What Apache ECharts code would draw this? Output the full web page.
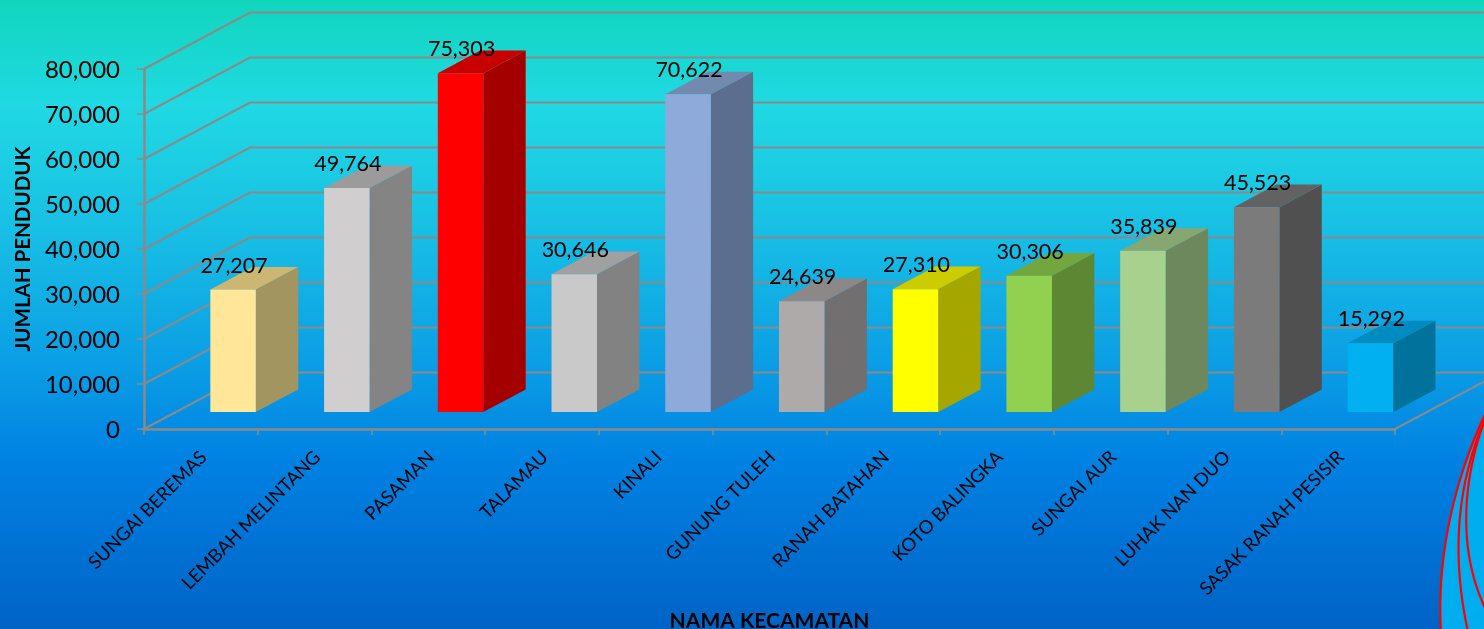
<!DOCTYPE html>
<html>
<head>
<meta charset="utf-8">
<style>html,body{margin:0;padding:0;background:#0a9ce5}#c{width:1484px;height:629px}</style>
<script src="https://cdn.jsdelivr.net/npm/echarts@6/dist/echarts.min.js"></script>
</head>
<body>
<div id="c"></div>
<script>
const categories = ['SUNGAI BEREMAS','LEMBAH MELINTANG','PASAMAN','TALAMAU','KINALI','GUNUNG TULEH','RANAH BATAHAN','KOTO BALINGKA','SUNGAI AUR','LUHAK NAN DUO','SASAK RANAH PESISIR'];
const population = [27207,49764,75303,30646,70622,24639,27310,30306,35839,45523,15292];
const yTicks = [0,10000,20000,30000,40000,50000,60000,70000,80000];
const frontColors = ['#FFE699','#D0CECE','#FF0000','#C9C9C9','#8EAADB','#AEAAAA','#FFFF00','#92D050','#A9D18E','#7B7B7B','#00B0F0'];
const topColors   = ['#CBB772','#9C9B9B','#C80000','#A0A0A0','#718AAE','#8C8888','#CCCC00','#74A63F','#87A772','#626262','#008CC0'];
const sideColors  = ['#A39560','#848484','#A50000','#828282','#5C6E8E','#716F6F','#A6A600','#5E8733','#6D885C','#505050','#00729C'];

const DEPTH_X = 106, DEPTH_Y = 56.5;
const GRID_COLOR = '#8a8a8a';
const FONT = 'Lato, "Open Sans", sans-serif';

function sampleBezier(p0, p1, p2, p3) {
  const pts = [];
  for (let i = 0; i <= 40; i++) {
    const t = i / 40, u = 1 - t;
    pts.push([
      u*u*u*p0[0] + 3*u*u*t*p1[0] + 3*u*t*t*p2[0] + t*t*t*p3[0],
      u*u*u*p0[1] + 3*u*u*t*p1[1] + 3*u*t*t*p2[1] + t*t*t*p3[1]
    ]);
  }
  return pts;
}
const curveA = sampleBezier([1488,408],[1458,470],[1436,550],[1441,632]);
const curveB = sampleBezier([1488,412],[1462,470],[1448,540],[1468,632]);
const curveC = sampleBezier([1488,412],[1468,460],[1452,540],[1486,610]);
const redLine = pts => ({type:'polyline', silent:true, z:5, shape:{points:pts}, style:{fill:null, stroke:'#FF0000', lineWidth:2.2}});

function renderWall(params, api) {
  const cs = params.coordSys;
  const p = api.coord([0, api.value(1)]);
  const x0 = cs.x, y = p[1];
  return {
    type:'polyline',
    shape:{points:[[x0,y],[x0+DEPTH_X,y-DEPTH_Y],[x0+cs.width+DEPTH_X,y-DEPTH_Y]]},
    style:{fill:null, stroke:GRID_COLOR, lineWidth:2}
  };
}
function renderFloor(params) {
  const cs = params.coordSys;
  const r = cs.x + cs.width, b = cs.y + cs.height;
  return {
    type:'line',
    shape:{x1:r,y1:b,x2:r+DEPTH_X,y2:b-DEPTH_Y},
    style:{stroke:GRID_COLOR, lineWidth:2}
  };
}
function renderBar(params, api) {
  const i = api.value(0);
  const top = api.coord([i, api.value(1)]);
  const base = api.coord([i, 0]);
  const w = api.size([1,0])[0] * 0.4;
  const sx = DEPTH_X * 0.304, sy = DEPTH_Y * 0.3;
  const dx = DEPTH_X * 0.4, dy = DEPTH_Y * 0.4;
  const l = top[0] + sx - w/2, r = l + w;
  const t = top[1] - sy, b = base[1] - sy;
  return {
    type:'group',
    children:[
      {type:'polygon', shape:{points:[[r,t],[r+dx,t-dy],[r+dx,b-dy],[r,b]]}, style:{fill:sideColors[i]}},
      {type:'polygon', shape:{points:[[l,t],[l+dx,t-dy],[r+dx,t-dy],[r,t]]}, style:{fill:topColors[i]}},
      {type:'rect', shape:{x:l,y:t,width:w,height:b-t}, style:{fill:frontColors[i]}},
      {type:'text', x:(l+r)/2+1, y:t-24, style:{
        text:api.value(1).toLocaleString('en-US'), fill:'#000', font:'21.5px '+FONT,
        textAlign:'center', textVerticalAlign:'middle'
      }}
    ]
  };
}

const chart = echarts.init(document.getElementById('c'), null, {renderer:'canvas'});
chart.setOption({
  animation:false,
  backgroundColor:new echarts.graphic.LinearGradient(0,0,0,1,[
    {offset:0,color:'#11D6BD'},
    {offset:0.167,color:'#20D9E3'},
    {offset:0.366,color:'#18BFE4'},
    {offset:0.59,color:'#0A9CE5'},
    {offset:0.73,color:'#0082E3'},
    {offset:1,color:'#0063C6'}
  ]),
  grid:{left:144,top:69,width:1251,height:360,containLabel:false,outerBoundsMode:'none'},
  xAxis:{
    type:'category', data:categories, boundaryGap:true,
    name:'NAMA KECAMATAN', nameLocation:'center', nameGap:182,
    nameTextStyle:{fontFamily:FONT,fontSize:21,fontWeight:'bold',color:'#000'},
    axisLine:{show:true,lineStyle:{color:GRID_COLOR,width:2.5}},
    axisTick:{show:true,alignWithLabel:false,length:6,lineStyle:{color:GRID_COLOR,width:1.5}},
    axisLabel:{interval:0,rotate:45,margin:28,padding:[8,-4,0,0],fontFamily:FONT,fontSize:18.5,color:'#000'},
    splitLine:{show:false}
  },
  yAxis:{
    type:'value', min:0, max:80000, interval:10000,
    name:'JUMLAH PENDUDUK', nameLocation:'center', nameGap:108,
    nameTextStyle:{fontFamily:FONT,fontSize:20.5,fontWeight:'bold',color:'#000'},
    axisLine:{show:true,lineStyle:{color:GRID_COLOR,width:2.5}},
    axisTick:{show:true,length:7,lineStyle:{color:GRID_COLOR,width:1.5}},
    axisLabel:{margin:24,verticalAlign:'top',padding:[-11,0,0,0],fontFamily:FONT,fontSize:24,color:'#000',
      formatter:v=>v.toLocaleString('en-US')},
    splitLine:{show:false}
  },
  graphic:[
    {type:'polygon', silent:true, z:4, shape:{points:curveA.concat([[1490,632]])}, style:{fill:'#00AEEF'}},
    redLine(curveA), redLine(curveB), redLine(curveC)
  ],
  series:[
    {type:'custom', name:'walls', clip:false, z:1, silent:true, renderItem:renderWall,
     encode:{x:0,y:1}, data:yTicks.map(v=>[0,v])},
    {type:'custom', name:'floor', clip:false, z:1, silent:true, renderItem:renderFloor,
     encode:{x:0,y:1}, data:[[0,0]]},
    {type:'custom', name:'JUMLAH PENDUDUK', clip:false, z:3, renderItem:renderBar,
     encode:{x:0,y:1}, data:population.map((v,i)=>[i,v])}
  ]
});
</script>
</body>
</html>
